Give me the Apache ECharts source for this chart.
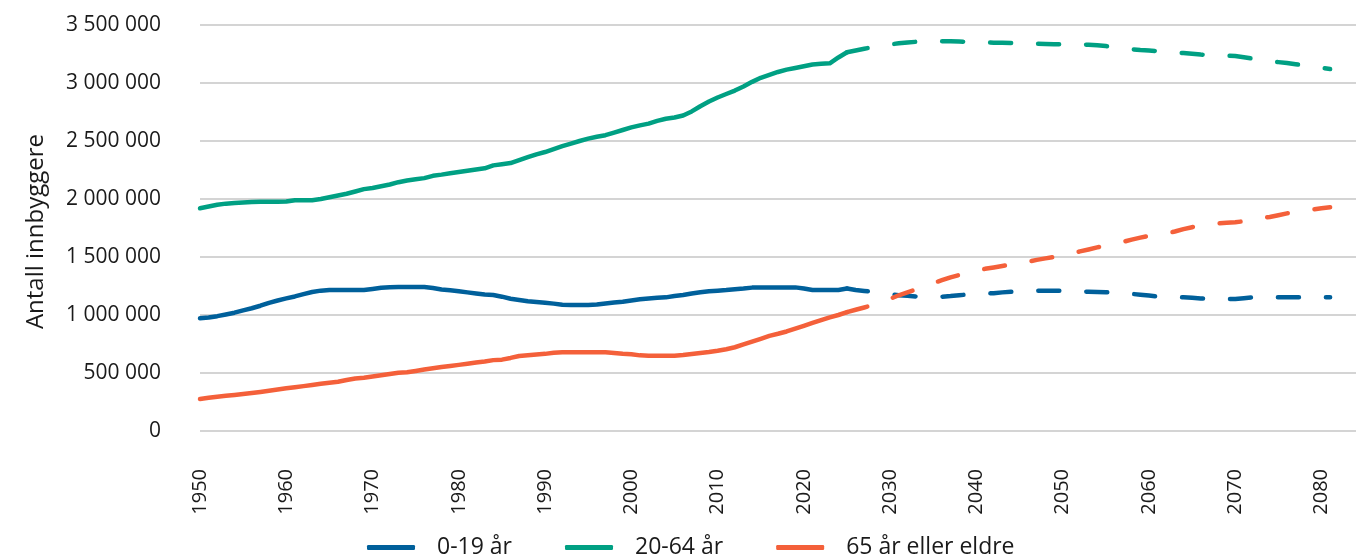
<!DOCTYPE html>
<html>
<head>
<meta charset="utf-8">
<script src="https://cdn.jsdelivr.net/npm/echarts@6/dist/echarts.min.js"></script>
<style>
  html, body { margin: 0; padding: 0; background: #ffffff; }
  #chart { width: 1358px; height: 558px; }
</style>
</head>
<body>
<div id="chart"></div>
<script>
// ---- data ----
const seriesNames = ['0-19 år', '20-64 år', '65 år eller eldre'];
const histStartYear = 1950;   // registered population, 1950-2025 (solid)
const projStartYear = 2025;   // projection, 2025-2081 (dashed)
const xTickLabels = ['1950','1960','1970','1980','1990','2000','2010','2020','2030','2040','2050','2060','2070','2080'];
const yTickLabels = ['0','500 000','1 000 000','1 500 000','2 000 000','2 500 000','3 000 000','3 500 000'];

const age0_19_hist = [
  971000, 978000, 990000, 1005000, 1020000, 1040000, 1058000, 1080000, 1105000, 1125000,
  1143000, 1160000, 1180000, 1198000, 1210000, 1216000, 1216000, 1216000, 1216000, 1216000,
  1225000, 1235000, 1240000, 1241000, 1241000, 1241000, 1241000, 1232000, 1220000, 1213000,
  1205000, 1195000, 1185000, 1176000, 1172000, 1158000, 1140000, 1130000, 1118000, 1112000,
  1106000, 1098000, 1088000, 1086000, 1086000, 1086000, 1090000, 1100000, 1108000, 1115000,
  1125000, 1135000, 1143000, 1148000, 1152000, 1163000, 1172000, 1185000, 1196000, 1205000,
  1210000, 1215000, 1222000, 1228000, 1236000, 1238000, 1238000, 1238000, 1238000, 1238000,
  1228000, 1216000, 1215000, 1215000, 1216000, 1228000
];
const age0_19_proj = [
  1228000, 1215000, 1207000, 1200000, 1190000, 1178000, 1170000, 1165000, 1160000, 1158000,
  1157000, 1158000, 1163000, 1170000, 1177000, 1182000, 1185000, 1188000, 1195000, 1200000,
  1203000, 1206000, 1209000, 1210000, 1210000, 1210000, 1207000, 1203000, 1200000, 1198000,
  1196000, 1195000, 1190000, 1182000, 1175000, 1168000, 1160000, 1157000, 1155000, 1152000,
  1148000, 1143000, 1138000, 1137000, 1137000, 1138000, 1145000, 1152000, 1153000, 1153000,
  1152000, 1152000, 1152000, 1152000, 1152000, 1152000, 1152000
];
const age20_64_hist = [
  1920000, 1935000, 1950000, 1960000, 1965000, 1970000, 1975000, 1977000, 1977000, 1977000,
  1978000, 1990000, 1990000, 1990000, 2000000, 2015000, 2030000, 2045000, 2065000, 2085000,
  2095000, 2110000, 2125000, 2145000, 2160000, 2170000, 2180000, 2200000, 2210000, 2222000,
  2232000, 2243000, 2255000, 2265000, 2290000, 2300000, 2310000, 2335000, 2360000, 2385000,
  2405000, 2430000, 2455000, 2478000, 2500000, 2520000, 2537000, 2550000, 2573000, 2595000,
  2617000, 2635000, 2650000, 2673000, 2692000, 2703000, 2720000, 2755000, 2800000, 2840000,
  2875000, 2905000, 2935000, 2970000, 3010000, 3045000, 3070000, 3095000, 3115000, 3130000,
  3145000, 3160000, 3165000, 3170000, 3220000, 3265000
];
const age20_64_proj = [
  3265000, 3280000, 3295000, 3310000, 3322000, 3333000, 3342000, 3350000, 3355000, 3358000,
  3360000, 3360000, 3360000, 3358000, 3355000, 3352000, 3350000, 3348000, 3347000, 3345000,
  3343000, 3340000, 3338000, 3336000, 3335000, 3334000, 3333000, 3332000, 3330000, 3325000,
  3318000, 3310000, 3300000, 3290000, 3284000, 3280000, 3275000, 3270000, 3265000, 3258000,
  3252000, 3245000, 3240000, 3237000, 3235000, 3232000, 3222000, 3210000, 3195000, 3188000,
  3180000, 3172000, 3162000, 3150000, 3140000, 3130000, 3120000
];
const age65plus_hist = [
  276000, 286000, 296000, 303000, 311000, 319000, 328000, 337000, 347000, 357000,
  368000, 377000, 387000, 397000, 407000, 416000, 425000, 440000, 453000, 459000,
  469000, 480000, 491000, 502000, 507000, 518000, 530000, 541000, 552000, 561000,
  570000, 580000, 591000, 600000, 611000, 615000, 630000, 647000, 653000, 660000,
  665000, 674000, 678000, 678000, 678000, 678000, 678000, 678000, 672000, 665000,
  662000, 652000, 649000, 649000, 649000, 649000, 655000, 664000, 672000, 681000,
  692000, 705000, 722000, 746000, 771000, 795000, 820000, 838000, 858000, 882000,
  907000, 932000, 956000, 980000, 1000000, 1025000
];
const age65plus_proj = [
  1025000, 1045000, 1065000, 1085000, 1110000, 1140000, 1170000, 1195000, 1220000, 1250000,
  1275000, 1300000, 1325000, 1345000, 1365000, 1383000, 1398000, 1410000, 1422000, 1435000,
  1448000, 1460000, 1475000, 1488000, 1500000, 1515000, 1530000, 1548000, 1565000, 1583000,
  1600000, 1615000, 1630000, 1650000, 1667000, 1683000, 1695000, 1705000, 1720000, 1740000,
  1757000, 1772000, 1782000, 1790000, 1796000, 1800000, 1808000, 1820000, 1835000, 1845000,
  1860000, 1876000, 1890000, 1900000, 1910000, 1920000, 1928000
];
const yAxisTitle = 'Antall innbyggere';

// ---- styling ----
const colors = ['#00609B', '#00A083', '#F4603A'];
const FONT = '"Open Sans", "Noto Sans", sans-serif';
const TEXT = '#1a1a1a';

function pairs(startYear, values) {
  return values.map((v, i) => [startYear + i, v]);
}
function fmt(v) {
  return String(Math.round(v)).replace(/\B(?=(\d{3})+(?!\d))/g, ' ');
}

const histData = [age0_19_hist, age20_64_hist, age65plus_hist];
const projData = [age0_19_proj, age20_64_proj, age65plus_proj];

const series = [];
seriesNames.forEach((name, i) => {
  series.push({
    name: name, type: 'line', showSymbol: false, symbol: 'none', z: 3,
    data: pairs(histStartYear, histData[i]),
    lineStyle: { color: colors[i], width: 4.5, cap: 'round', join: 'round' },
    itemStyle: { color: colors[i] },
    emphasis: { disabled: true }
  });
});
seriesNames.forEach((name, i) => {
  series.push({
    name: name, type: 'line', showSymbol: false, symbol: 'none', z: 3,
    data: pairs(projStartYear, projData[i]),
    lineStyle: { color: colors[i], width: 4.5, type: [21, 27], cap: 'round', join: 'round' },
    itemStyle: { color: colors[i] },
    emphasis: { disabled: true }
  });
});

const chart = echarts.init(document.getElementById('chart'), null, { renderer: 'canvas' });
chart.setOption({
  animation: false,
  backgroundColor: '#ffffff',
  color: colors,
  grid: { left: 200, right: 2, top: 25, bottom: 127, containLabel: false, outerBoundsMode: 'none' },
  legend: {
    data: seriesNames,
    left: 362, top: 531,
    icon: 'roundRect',
    itemWidth: 48, itemHeight: 5, itemGap: 53,
    textStyle: { fontFamily: FONT, fontSize: 23, color: TEXT, padding: [0, 0, 0, 17] },
    selectedMode: false
  },
  xAxis: {
    type: 'value', min: 1950, max: 2084, interval: 10,
    axisLine: { show: false }, axisTick: { show: false }, splitLine: { show: false },
    axisLabel: {
      rotate: 90, margin: 38, showMaxLabel: false,
      fontFamily: FONT, fontSize: 20, color: TEXT,
      formatter: function (v) { const s = String(v); return xTickLabels.indexOf(s) >= 0 ? s : ''; }
    }
  },
  yAxis: {
    type: 'value', min: 0, max: 3500000, interval: 500000,
    name: yAxisTitle, nameLocation: 'middle', nameGap: 152, nameRotate: 90,
    nameTextStyle: { fontFamily: FONT, fontSize: 24, color: TEXT, padding: [0, 7, 0, 0] },
    axisLine: { show: false }, axisTick: { show: false },
    splitLine: { lineStyle: { color: '#c6c6c6', width: 1.5 } },
    axisLabel: {
      margin: 39, fontFamily: FONT, fontSize: 21, color: TEXT,
      formatter: function (v) { const s = fmt(v); return yTickLabels.indexOf(s) >= 0 ? s : ''; }
    }
  },
  series: series
});
</script>
</body>
</html>
